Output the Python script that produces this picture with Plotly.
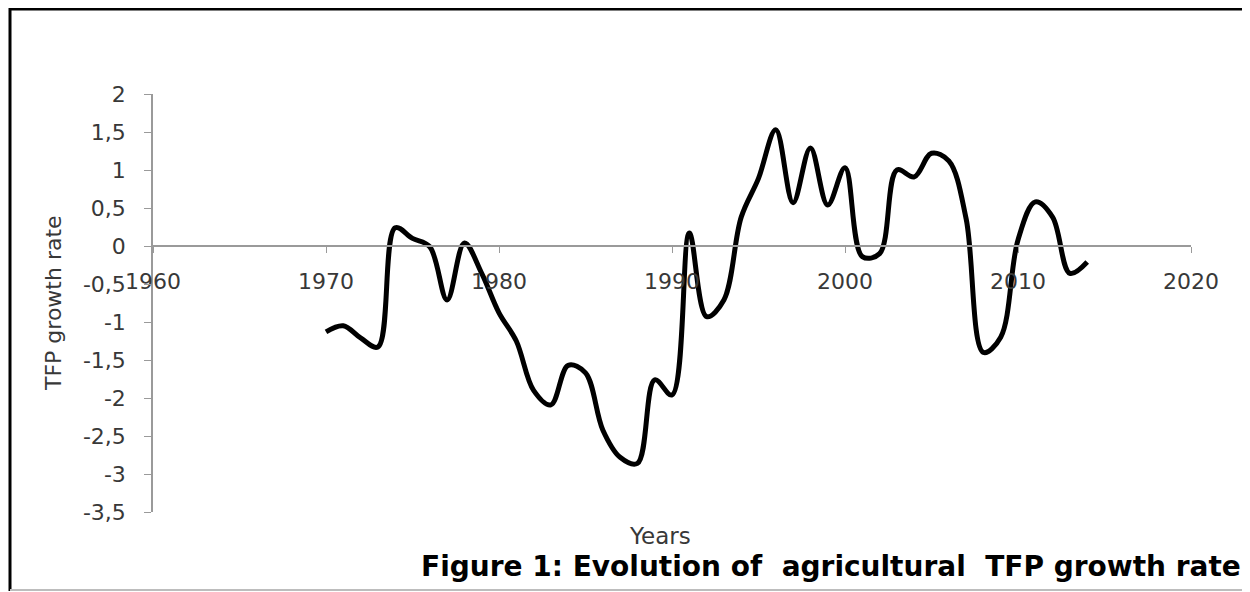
import plotly.graph_objects as go

years = list(range(1970, 2015))
tfp_growth = [-1.13, -1.05, -1.21, -1.33, 0.24, 0.10, -0.01, -0.71, 0.04, -0.36,
              -0.88, -1.25, -1.90, -2.09, -1.57, -1.67, -2.42, -2.78, -2.86, -1.76,
              -1.96, 0.17, -0.93, -0.71, 0.38, 0.89, 1.53, 0.57, 1.29, 0.54,
              1.03, -0.14, -0.10, 1.00, 0.91, 1.22, 1.12, 0.36, -1.40, -1.20,
              0.08, 0.58, 0.38, -0.36, -0.21]

y_tickvals = [2, 1.5, 1, 0.5, 0, -0.5, -1, -1.5, -2, -2.5, -3, -3.5]
y_ticktext = ["2", "1,5", "1", "0,5", "0", "-0,5", "-1", "-1,5", "-2", "-2,5", "-3", "-3,5"]
x_tickvals = [1960, 1970, 1980, 1990, 2000, 2010, 2020]
x_ticktext = ["1960", "1970", "1980", "1990", "2000", "2010", "2020"]

OFF = 8  # page body margin
W, H = 1250 - OFF, 592 - OFF
L, R, T, B = 153 - OFF, 1191 - OFF, 94 - OFF, 512 - OFF
pw, ph = R - L, B - T

def px(x):
    return (x - OFF - L) / pw

def py(y):
    return (B - (y - OFF)) / ph

fig = go.Figure()
fig.add_trace(go.Scatter(
    x=years, y=tfp_growth, mode="lines",
    line=dict(color="black", width=5, shape="spline", smoothing=1),
    showlegend=False, hoverinfo="x+y"))

font_family = "'DejaVu Sans', sans-serif"
txt = "#383838"
fig.update_layout(
    width=W, height=H,
    margin=dict(l=L, r=W - R, t=T, b=H - B),
    paper_bgcolor="white", plot_bgcolor="white",
    font=dict(family=font_family, size=22, color=txt),
    xaxis=dict(range=[1960, 2020], tickvals=x_tickvals, ticktext=x_ticktext,
               showgrid=False, zeroline=False, showline=True, linecolor="#9a9a9a",
               linewidth=1.5, ticks="outside", ticklen=6, tickcolor="#9a9a9a",
               anchor="free", position=3.5 / 5.5, ticklabelstandoff=10,
               tickfont=dict(size=22, color=txt)),
    yaxis=dict(range=[-3.5, 2], tickvals=y_tickvals, ticktext=y_ticktext,
               showgrid=False, zeroline=False, showline=True, linecolor="#9a9a9a",
               linewidth=1.5, ticks="outside", ticklen=7, tickcolor="#9a9a9a",
               ticklabelstandoff=14, tickfont=dict(size=22, color=txt)),
    annotations=[
        dict(text="TFP growth rate", xref="paper", yref="paper",
             x=px(53), y=py(303), textangle=-90, showarrow=False,
             xanchor="center", yanchor="middle",
             font=dict(size=22, color=txt, family=font_family)),
        dict(text="Years", xref="paper", yref="paper",
             x=px(660), y=py(536), showarrow=False,
             xanchor="center", yanchor="middle",
             font=dict(size=23, color=txt, family=font_family)),
        dict(text="<b>Figure 1: Evolution of \u00a0agricultural \u00a0TFP growth rate</b>",
             xref="paper", yref="paper",
             x=px(831), y=py(566), showarrow=False,
             xanchor="center", yanchor="middle",
             font=dict(size=28, color="black", family=font_family)),
    ],
    shapes=[
        dict(type="line", xref="paper", yref="paper", x0=px(10), x1=px(10),
             y0=py(8), y1=py(591), line=dict(color="black", width=3)),
        dict(type="line", xref="paper", yref="paper", x0=px(10), x1=px(1246),
             y0=py(9), y1=py(9), line=dict(color="black", width=3)),
        dict(type="line", xref="paper", yref="paper", x0=px(1246), x1=px(1246),
             y0=py(8), y1=py(591), line=dict(color="black", width=3)),
        dict(type="line", xref="paper", yref="paper", x0=px(10), x1=px(1246),
             y0=py(590), y1=py(590), line=dict(color="#bdbdbd", width=2)),
    ],
)

fig.write_html("out.html")
